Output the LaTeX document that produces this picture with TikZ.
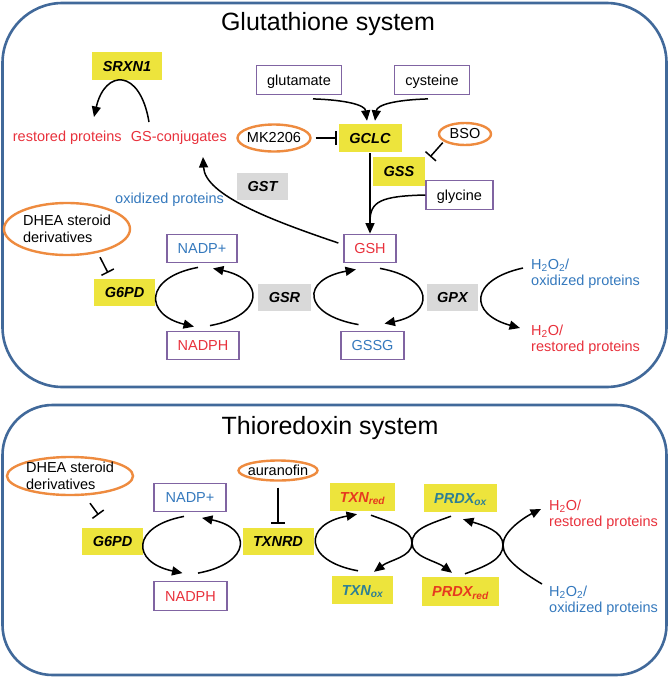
\documentclass[tikz,border=0pt]{standalone}
\usepackage{fontspec}
\setmainfont{Liberation Sans}
\usetikzlibrary{arrows.meta,shapes.geometric}
\definecolor{frameC}{HTML}{41699A}
\definecolor{yelC}{HTML}{EDE43C}
\definecolor{gryC}{HTML}{D9D9D9}
\definecolor{purC}{HTML}{8064A2}
\definecolor{oraC}{HTML}{EE8B3F}
\definecolor{redC}{HTML}{E8313C}
\definecolor{bluC}{HTML}{3579BD}
\definecolor{tealC}{HTML}{2D7F95}
\definecolor{redY}{HTML}{E63A1F}
\begin{document}
\begin{tikzpicture}[x=1pt,y=-1pt,
  every node/.style={font=\fontsize{14.5}{16.5}\selectfont, inner sep=0pt},
  frame/.style={draw=frameC, line width=2.6pt},
  ttl/.style={font=\fontsize{25}{29}\selectfont, anchor=base},
  pbox/.style={draw=purC, line width=1.3pt, minimum height=28.5pt, text height=10.4pt, text depth=0pt},
  ybox/.style={fill=yelC, minimum height=28pt, text height=10.4pt, text depth=0pt, font=\fontsize{14.5}{16.5}\selectfont\bfseries\itshape},
  gbox/.style={fill=gryC, minimum height=27pt, text height=10.4pt, text depth=0pt, font=\fontsize{14.5}{16.5}\selectfont\bfseries\itshape},
  oell/.style={ellipse, draw=oraC, line width=2.4pt},
  ftxt/.style={anchor=base west},
  mtxt/.style={anchor=north west, align=left},
  arr/.style={line width=1.5pt, -{Triangle[length=10.5pt,width=9pt]}},
  inh/.style={line width=1.5pt, -{Bar[width=14pt]}},
]
\useasboundingbox (0,0) rectangle (669,678);
% frames
\draw[frame, rounded corners=60pt] (2.5,3) rectangle (666.5,387);
\draw[frame, rounded corners=50pt] (2.5,405) rectangle (666.5,675);
\node[ttl] (t1) at (328,30) {Glutathione system};
\node[ttl] (t2) at (330,434) {Thioredoxin system};

% ---------- Glutathione system ----------
\node[ybox, minimum width=70pt] (srxn) at (127,66) {SRXN1};
\node[ftxt, text=redC] (rest1) at (12.7,141) {restored proteins};
\node[ftxt, text=redC] (gsc) at (130.7,141) {GS-conjugates};
\node[oell, minimum width=73pt, minimum height=27pt, label=center:MK2206] (mk) at (274,138) {};
\node[pbox, minimum width=85pt] (glu) at (299,80) {glutamate};
\node[pbox, minimum width=75pt] (cys) at (432,80) {cysteine};
\node[ybox, minimum width=63pt] (gclc) at (370,138) {GCLC};
\node[oell, minimum width=52pt, minimum height=22pt, label=center:BSO] (bso) at (465,134) {};
\node[ybox, minimum width=52pt, minimum height=29pt] (gss) at (399,171.5) {GSS};
\node[pbox, minimum width=67pt] (gly) at (459.5,195) {glycine};
\node[gbox, minimum width=51pt] (gst) at (262.5,186.5) {GST};
\node[ftxt, text=bluC] (oxp) at (115,203) {oxidized proteins};
\node[pbox, minimum width=52pt, text=redC] (gsh) at (370,248.5) {GSH};
\node[oell, minimum width=126pt, minimum height=52pt, label={[align=left]center:DHEA steroid\\derivatives}] (dhea1) at (67,229) {};
\node[pbox, minimum width=70pt, text=bluC] (nadp1) at (202,248.5) {NADP+};
\node[ybox, minimum width=61pt, minimum height=27pt] (g6pd1) at (124.5,292.5) {G6PD};
\node[pbox, minimum width=72pt, text=redC] (nadph1) at (203,345.5) {NADPH};
\node[gbox, minimum width=53pt] (gsr) at (284.5,297.5) {GSR};
\node[pbox, minimum width=63pt, text=bluC] (gssg) at (372.5,345.5) {GSSG};
\node[gbox, minimum width=51pt] (gpx) at (452.5,297.5) {GPX};
\node[mtxt, text=bluC] (h2o2a) at (531,258.4) {H\textsubscript{2}O\textsubscript{2}/\\oxidized proteins};
\node[mtxt, text=redC] (h2oa) at (531,324.4) {H\textsubscript{2}O/\\restored proteins};

\draw[arr] ([shift={(18.3,-19)}]gsc.base west) .. controls +(-9,-54) and +(11,-48) .. ([shift={(81.3,-24)}]rest1.base west);
\draw[arr] ([shift={(-5,-5.5)}]gsh.west) .. controls +(-68,-23) and +(2,38) .. ([shift={(72.3,16)}]gsc.base west);
\draw[arr] ([shift={(14,4)}]glu.south) .. controls +(32,1) and +(-2,-16) .. ([shift={(-3,-3)}]gclc.north);
\draw[arr] ([shift={(-4,4)}]cys.south) .. controls +(-33,1) and +(2,-16) .. ([shift={(5,-3)}]gclc.north);
\draw[inh] ([xshift=4pt]mk.east) -- ([xshift=-1.5pt]gclc.west);
\draw[inh] ([xshift=-3pt]bso.south west) -- ([xshift=5pt]gss.north east);
\draw[arr] ([shift={(0,1)}]gclc.south) -- (gsh.north);
\draw[line width=1.5pt] (gly.west) .. controls +(-45,1) and +(0,-20) .. ([shift={(0,-12)}]gsh.north);
\draw[inh] ([shift={(33,1)}]dhea1.south) -- ([shift={(-16.5,-6)}]g6pd1.north);
\draw[arr] ([shift={(-4,4)}]nadp1.south) .. controls +(-54,10) and +(-50,-12) .. ([shift={(-9,-4)}]nadph1.north);
\draw[arr] ([shift={(7,-5)}]nadph1.north) .. controls +(55,-10) and +(52,11) .. ([shift={(11,5)}]nadp1.south);
\draw[arr] ([shift={(-14,-6)}]gssg.north) .. controls +(-57,-10) and +(-55,10) .. ([shift={(-14,6)}]gsh.south);
\draw[arr] ([shift={(10,5)}]gsh.south) .. controls +(55,10) and +(50,-10) .. ([shift={(12,-7)}]gssg.north);
\draw[arr] ([shift={(-8,9.6)}]h2o2a.north west) .. controls +(-54,12) and +(-51,-14) .. ([shift={(-11,3.6)}]h2oa.north west);

% ---------- Thioredoxin system ----------
\node[oell, minimum width=126pt, minimum height=38pt, label={[align=left]center:DHEA steroid\\derivatives}] (dhea2) at (70,476) {};
\node[oell, minimum width=79pt, minimum height=20pt, label=center:auranofin] (aur) at (278,470.5) {};
\node[pbox, minimum width=72pt, text=bluC] (nadp2) at (190,497.5) {NADP+};
\node[ybox, minimum width=61pt, minimum height=27pt] (g6pd2) at (112.5,541.5) {G6PD};
\node[pbox, minimum width=73pt, text=redC] (nadph2) at (190.5,596) {NADPH};
\node[ybox, minimum width=71pt, minimum height=27pt] (txnrd) at (278,541.5) {TXNRD};
\node[ybox, minimum width=65pt, text=redY] (txnred) at (362.5,497) {TXN\textsubscript{red}};
\node[ybox, minimum width=61pt, text=tealC] (txnox) at (362.5,590) {TXN\textsubscript{ox}};
\node[ybox, minimum width=73pt, text=tealC] (prdxox) at (460.5,498) {PRDX\textsubscript{ox}};
\node[ybox, minimum width=77pt, minimum height=29pt, text=redY] (prdxred) at (460.5,591.5) {PRDX\textsubscript{red}};
\node[mtxt, text=redC] (h2ob) at (549,499.4) {H\textsubscript{2}O/\\restored proteins};
\node[mtxt, text=bluC] (h2o2b) at (549,585.4) {H\textsubscript{2}O\textsubscript{2}/\\oxidized proteins};
\coordinate (c1) at (412,543);
\coordinate (c2) at (503,545);

\draw[inh] ([shift={(20,7)}]dhea2.south) -- ([shift={(-14,-13)}]g6pd2.north);
\draw[inh] ([shift={(0,6)}]aur.south) -- ([shift={(0,-4)}]txnrd.north);
\draw[arr] ([shift={(-6,4)}]nadp2.south) .. controls +(-53,10) and +(-51.5,-11) .. ([shift={(-8,-8)}]nadph2.north);
\draw[arr] ([shift={(7.5,-8)}]nadph2.north) .. controls +(54,-10) and +(50,10) .. ([shift={(12,5.5)}]nadp2.south);
\draw[arr] ([shift={(-4.5,-5)}]txnox.north) .. controls +(-55,-10) and +(-54,10) .. ([shift={(-5.5,3)}]txnred.south);
\draw[arr] ([shift={(8.5,4)}]txnred.south) .. controls +(22,8) and +(0,-14) .. (c1) .. controls +(0,14) and +(-16,-12) .. ([shift={(-8.5,-4)}]prdxred.north);
\draw[arr] ([shift={(-9.5,4)}]prdxox.south) .. controls +(-22,8) and +(0,-14) .. (c1) .. controls +(0,14) and +(16,-12) .. ([shift={(11.5,-4)}]txnox.north);
\draw[arr] ([shift={(4.5,-3)}]prdxred.north) .. controls +(22,-8) and +(0,14) .. (c2) .. controls +(0,-14) and +(-16,8) .. ([shift={(-8,9.6)}]h2ob.north west);
\draw[arr] ([shift={(-7,-1.4)}]h2o2b.north west) .. controls +(-20,-12) and +(0,14) .. (c2) .. controls +(0,-14) and +(20,6) .. ([shift={(2.5,7)}]prdxox.south);
\end{tikzpicture}
\end{document}
